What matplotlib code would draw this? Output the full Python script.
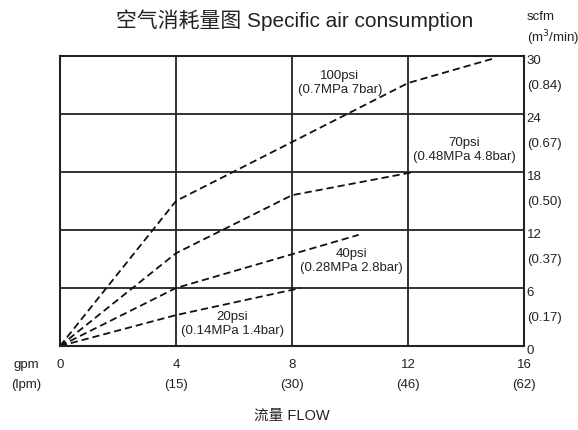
import numpy as np
import matplotlib as mpl
import matplotlib.pyplot as plt

# Data (flow in gpm, consumption in scfm)
flow_100 = [0, 4, 12, 14.9]
scfm_100 = [0, 15.0, 27.2, 29.7]
flow_70 = [0, 4, 8, 12.2]
scfm_70 = [0, 9.6, 15.6, 18.0]
flow_40 = [0, 4, 10.3]
scfm_40 = [0, 6.0, 11.5]
flow_20 = [0, 4, 8.3]
scfm_20 = [0, 3.2, 6.0]

gpm_ticks = [0, 4, 8, 12, 16]
lpm_labels = ['', '(15)', '(30)', '(46)', '(62)']
scfm_ticks = [0, 6, 12, 18, 24, 30]
m3_labels = ['(0.17)', '(0.37)', '(0.50)', '(0.67)', '(0.84)']

series_labels = ['100psi\n(0.7MPa 7bar)', '70psi\n(0.48MPa 4.8bar)',
                 '40psi\n(0.28MPa 2.8bar)', '20psi\n(0.14MPa 1.4bar)']
label_pos = [(9.65, 27.2), (13.95, 20.3), (10.05, 8.8), (5.95, 2.3)]

mpl.rcParams['font.family'] = ['Liberation Sans', 'Noto Sans CJK SC', 'DejaVu Sans']

fig = plt.figure(figsize=(5.78, 4.30), dpi=100)
ax = fig.add_axes([0.1038, 0.1953, 0.8028, 0.6745])
ax.set_xlim(0, 16)
ax.set_ylim(0, 30)

# Grid
for g in gpm_ticks[1:-1]:
    ax.axvline(g, color='#222222', lw=1.3)
for s in scfm_ticks[1:-1]:
    ax.axhline(s, color='#222222', lw=1.3)
for sp in ax.spines.values():
    sp.set_linewidth(1.5)
    sp.set_color('#222222')
ax.set_xticks([])
ax.set_yticks([])

# Curves
dash = (0, (4.0, 2.2))
for fx, fy in [(flow_100, scfm_100), (flow_70, scfm_70),
               (flow_40, scfm_40), (flow_20, scfm_20)]:
    ax.plot(fx, fy, color='#111111', lw=1.3, linestyle=dash)
ax.plot([0], [0], marker='o', ms=3, color='#111111')

for txt, (px, py) in zip(series_labels, label_pos):
    ax.text(px, py, txt, ha='center', va='center', fontsize=9.5,
            linespacing=1.25, color='#222222')

# Bottom axis labels
xt = ax.get_xaxis_transform()
for g, l in zip(gpm_ticks, lpm_labels):
    ax.text(g, -0.066, str(g), transform=xt, ha='center', va='center',
            fontsize=9.5, color='#222222')
    ax.text(g, -0.135, l, transform=xt, ha='center', va='center',
            fontsize=9.5, color='#222222')
ax.text(-0.072, -0.066, 'gpm', transform=ax.transAxes, ha='center',
        va='center', fontsize=9.5, color='#222222')
ax.text(-0.072, -0.135, '(lpm)', transform=ax.transAxes, ha='center',
        va='center', fontsize=9.5, color='#222222')
ax.text(0.5, -0.24, '流量 FLOW', transform=ax.transAxes, ha='center',
        va='center', fontsize=10.5, color='#222222')

# Right axis labels
yt = ax.get_yaxis_transform()
for s in scfm_ticks:
    ax.text(1.006, s - 0.5, str(s), transform=yt, ha='left', va='center',
            fontsize=9.5, color='#222222')
for s, l in zip(scfm_ticks[:-1], m3_labels):
    ax.text(1.006, s + 2.9, l, transform=yt, ha='left', va='center',
            fontsize=9.5, color='#222222')
ax.text(1.006, 1.135, 'scfm', transform=ax.transAxes, ha='left',
        va='center', fontsize=9.5, color='#222222')
ax.text(1.006, 1.063, '(m$^3$/min)', transform=ax.transAxes, ha='left',
        va='center', fontsize=9.5, color='#222222')

# Title
fig.text(0.509, 0.953, '空气消耗量图 Specific air consumption', ha='center',
         va='center', fontsize=15, color='#222222')

fig.savefig('out.png', dpi=100)
